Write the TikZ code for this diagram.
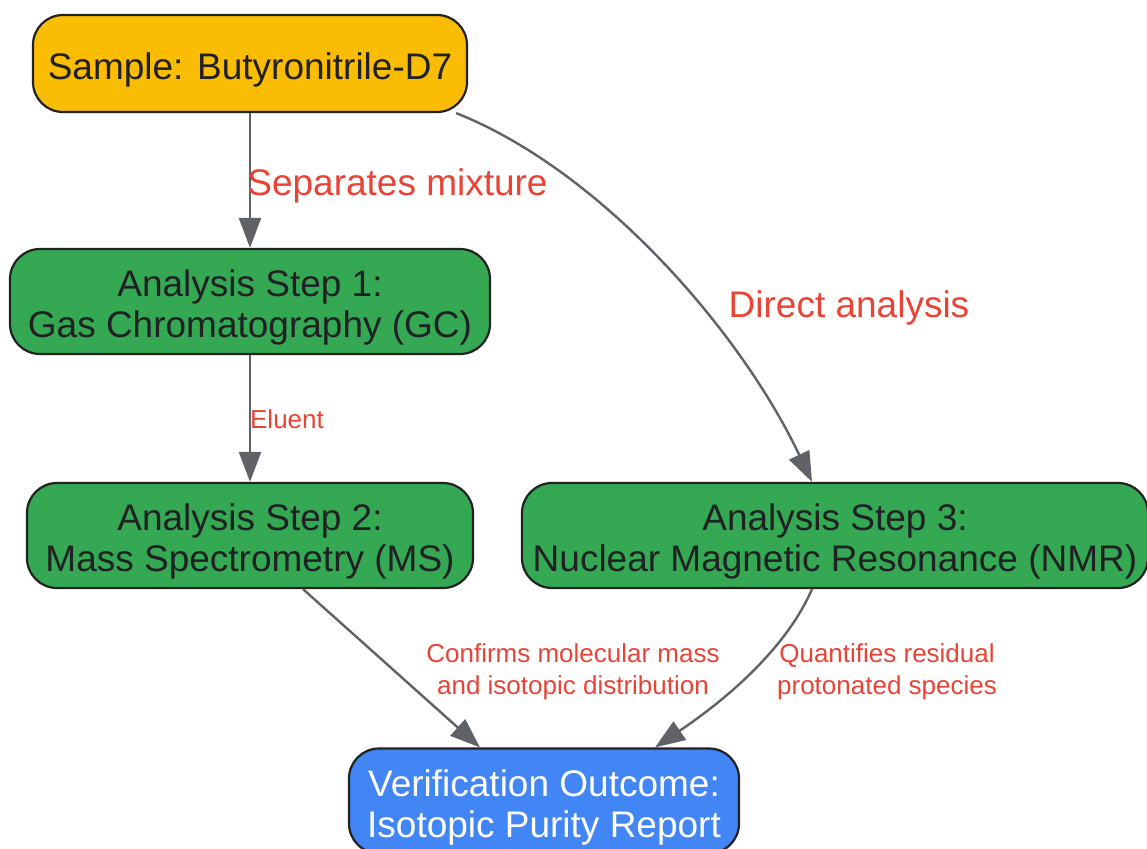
\documentclass[tikz,border=0pt]{standalone}
\usepackage{fontspec}
\setmainfont{Liberation Sans}
\usetikzlibrary{arrows.meta,calc}
\definecolor{ylw}{HTML}{FBBC04}
\definecolor{grn}{HTML}{34A853}
\definecolor{blu}{HTML}{4285F4}
\definecolor{lblred}{HTML}{EA4335}
\definecolor{edgegray}{HTML}{5F6368}
\definecolor{txtdark}{HTML}{202124}
\definecolor{bord}{HTML}{222222}
\newcommand{\topstrt}{\rule{0pt}{39pt}}
\tikzset{
  box/.style={draw=bord, line width=2.2pt, rounded corners=30pt, inner sep=0pt, align=center,
    text=txtdark, font=\fontsize{37}{41}\selectfont},
  conn/.style={draw=edgegray, line width=2.4pt, -{Triangle[length=30pt,width=22pt]}},
  biglbl/.style={text=lblred, font=\fontsize{37}{41}\selectfont, inner sep=0pt},
  smalllbl/.style={text=lblred, font=\fontsize{26}{32}\selectfont, inner sep=0pt, align=center},
}
\begin{document}
\begin{tikzpicture}[x=1pt,y=-1pt]
\useasboundingbox (0,0) rectangle (1147,848);
\node[box, fill=ylw, minimum width=434pt, minimum height=97pt] (s) at (250,63.5) {\topstrt Sample: Butyronitrile-D7};
\node[box, fill=grn, minimum width=480pt, minimum height=105pt] (gc) at (250,301.5) {\topstrt Analysis Step 1:\\Gas Chromatography (GC)};
\node[box, fill=grn, minimum width=446pt, minimum height=105pt] (ms) at (250,535.5) {\topstrt Analysis Step 2:\\Mass Spectrometry (MS)};
\node[box, fill=grn, minimum width=626pt, minimum height=105pt] (nmr) at (835,535.5) {\topstrt Analysis Step 3:\\Nuclear Magnetic Resonance (NMR)};
\node[box, fill=blu, text=white, minimum width=390pt, minimum height=105pt] (out) at (544,801) {\topstrt Verification Outcome:\\Isotopic Purity Report};

\draw[conn] (s.south) -- (gc.north);
\draw[conn] (gc.south) -- (ms.north);
\draw[conn] ([xshift=-12pt]s.south east) .. controls (600,170) and (740,330) .. ([xshift=-23pt]nmr.north);
\draw[conn] ([xshift=53pt]ms.south) -- ([xshift=-64pt]out.north);
\draw[conn] ([xshift=-23pt]nmr.south) .. controls (790,640) and (740,690) .. ([xshift=111pt]out.north);

\node[biglbl] (l1) at (397.5,186) {Separates mixture};
\node[smalllbl] (l2) at (287,419) {Eluent};
\node[biglbl] (l3) at (849,308) {Direct analysis};
\node[smalllbl] (l4) at (573,672) {Confirms molecular mass\\and isotopic distribution};
\node[smalllbl] (l5) at (887,672) {Quantifies residual\\protonated species};
\end{tikzpicture}
\end{document}
